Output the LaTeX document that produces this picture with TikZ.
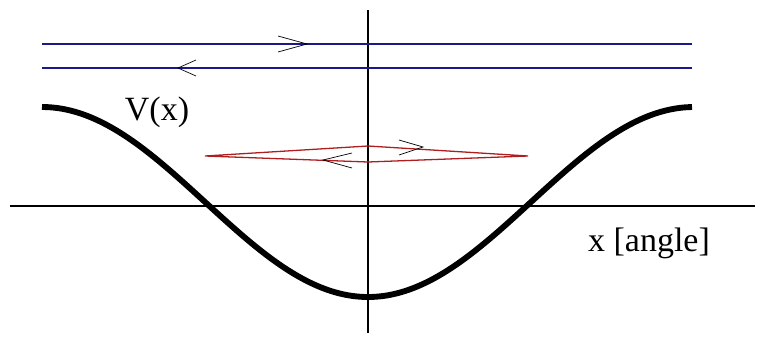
\documentclass[tikz,border=0pt]{standalone}
\usepackage{fontspec}
\setmainfont{Liberation Serif}
\definecolor{azul}{RGB}{25,25,140}
\definecolor{rojo}{RGB}{175,30,30}
\tikzset{
  eje/.style={line width=1.6pt},
  orbita/.style={line width=1.6pt, azul},
  lente/.style={line width=1.1pt, rojo},
  flecha/.style={line width=0.6pt},
  etiqueta/.style={font=\fontsize{29}{34}\selectfont, inner sep=0pt}
}
\begin{document}
\begin{tikzpicture}[x=0.03cm,y=-0.03cm]
        \useasboundingbox (0,0) rectangle (765,336);
        % Ejes
        \draw[eje] (10,206) -- (755,206);
        \draw[eje] (368,10) -- (368,333);
        % Orbitas libres
        \draw[orbita] (42,44) -- (692,44);
        \draw[orbita] (42,68) -- (692,68);
        \draw[flecha] (278,36) -- (307,44) -- (278,52);
        \draw[flecha] (196,60) -- (178,68) -- (196,76);
        % Potencial
        \draw[line width=5pt] plot[domain=42:692, samples=120, smooth] (\x, {202+95*cos(0.55215*(\x-368))});
        % Orbita ligada
        \draw[lente] (205,156) -- (368,146) -- (528,156) -- (368,162) -- cycle;
        \draw[flecha] (399,140) -- (423,147) -- (399,155);
        \draw[flecha] (352,153) -- (323,160) -- (352,168);
        % Etiquetas
        \node[etiqueta] (pot) at (157,112) {V(x)};
        \node[etiqueta] (ang) at (649,243) {x [angle]};
\end{tikzpicture}
\end{document}
